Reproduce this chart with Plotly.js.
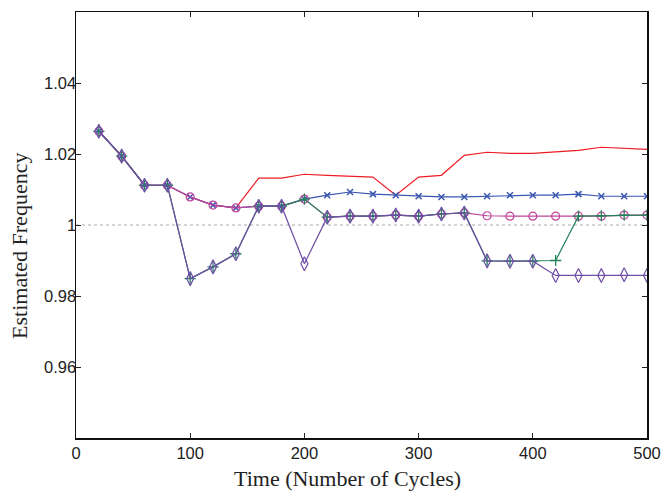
<!DOCTYPE html>
<html><head><meta charset="utf-8">
<script src="https://cdn.plot.ly/plotly-3.0.1.min.js"></script>
<style>html,body{margin:0;padding:0;background:#fff}#chart{width:661px;height:492px}</style>
</head><body><div id="chart"></div>
<script>
const time = [20,40,60,80,100,120,140,160,180,200,220,240,260,280,300,320,340,360,380,400,420,440,460,480,500];
const redSeries     = [1.0264,1.0194,1.0112,1.0112,1.0079,1.0056,1.0048,1.0132,1.0132,1.0143,1.0140,1.0137,1.0135,1.0084,1.0135,1.0140,1.0196,1.0205,1.0202,1.0202,1.0205,1.0210,1.0219,1.0216,1.0213];
const blueSeries    = [1.0264,1.0194,1.0112,1.0112,1.0079,1.0056,1.0048,1.0053,1.0053,1.0073,1.0084,1.0093,1.0087,1.0084,1.0081,1.0079,1.0079,1.0081,1.0084,1.0084,1.0084,1.0087,1.0081,1.0081,1.0081];
const magentaSeries = [1.0264,1.0194,1.0112,1.0112,1.0079,1.0056,1.0048,1.0053,1.0053,1.0073,1.0022,1.0025,1.0025,1.0028,1.0025,1.0031,1.0034,1.0026,1.0025,1.0025,1.0025,1.0025,1.0025,1.0028,1.0028];
const greenSeries   = [1.0264,1.0194,1.0112,1.0112,0.9849,0.9882,0.9919,1.0053,1.0053,1.0073,1.0022,1.0025,1.0025,1.0028,1.0025,1.0031,1.0034,0.9899,0.9898,0.9898,0.9900,1.0025,1.0026,1.0028,1.0028];
const purpleSeries  = [1.0264,1.0194,1.0112,1.0112,0.9849,0.9882,0.9919,1.0053,1.0053,0.9891,1.0022,1.0025,1.0025,1.0028,1.0025,1.0031,1.0034,0.9899,0.9898,0.9898,0.9858,0.9858,0.9858,0.9860,0.9858];
const refX = [0,500];
const refY = [1,1];
const xTicks = [0,100,200,300,400,500];
const yTicks = [0.96,0.98,1,1.02,1.04];
const yTickText = ['0.96','0.98','1','1.02','1.04'];
const xTitle = 'Time (Number of Cycles)';
const yTitle = 'Estimated Frequency';

const traces = [
  {x: refX, y: refY, mode:'lines', line:{color:'#aaaaaa', width:1, dash:'dot'}, hoverinfo:'skip'},
  {x: time, y: redSeries, mode:'lines', line:{color:'#ee1c24', width:1.2}},
  {x: time, y: blueSeries, mode:'lines+markers', line:{color:'#3a56b0', width:1.2},
   marker:{symbol:'x-thin-open', size:6, line:{color:'#3a56b0', width:1.5}}},
  {x: time, y: magentaSeries, mode:'lines+markers', line:{color:'#c0449c', width:1.2},
   marker:{symbol:'circle-open', size:8, color:'#c0449c', line:{color:'#c0449c', width:1.2}}},
  {x: time, y: greenSeries, mode:'lines+markers', line:{color:'#23825a', width:1.2},
   marker:{symbol:'cross-thin-open', size:8, line:{color:'#23825a', width:1.3}}},
  {x: time, y: purpleSeries, mode:'lines+markers', line:{color:'#6e4ea6', width:1.2},
   marker:{symbol:'diamond-tall-open', size:10, color:'#6e4ea6', line:{color:'#6e4ea6', width:1.2}}}
];

const titleFont = {family:'Liberation Serif, Times New Roman, serif', size:22, color:'#222'};
const layout = {
  width:661, height:492,
  margin:{l:76, r:14, t:12, b:54},
  paper_bgcolor:'#fff', plot_bgcolor:'#fff',
  showlegend:false,
  font:{family:'Liberation Sans, Arial, sans-serif', size:16.5, color:'#222'},
  xaxis:{range:[0,500], tickvals:xTicks, ticks:'inside', ticklen:5, tickcolor:'#222',
    showline:true, mirror:'ticks', linecolor:'#111', linewidth:1.5, showgrid:false, zeroline:false},
  yaxis:{range:[0.94,1.06], tickvals:yTicks, ticktext:yTickText, ticks:'inside', ticklen:5, tickcolor:'#222',
    ticklabelstandoff:-5,
    showline:true, mirror:'ticks', linecolor:'#111', linewidth:1.5, showgrid:false, zeroline:false},
  annotations:[
    {text:xTitle, xref:'paper', yref:'paper', x:0.476, y:-0.094, xanchor:'center', yanchor:'middle',
     showarrow:false, font:titleFont},
    {text:yTitle, xref:'paper', yref:'paper', x:-0.098, y:0.451, xanchor:'center', yanchor:'middle',
     textangle:-90, showarrow:false, font:titleFont}
  ]
};
Plotly.newPlot('chart', traces, layout, {staticPlot:true, displayModeBar:false});
</script></body></html>
